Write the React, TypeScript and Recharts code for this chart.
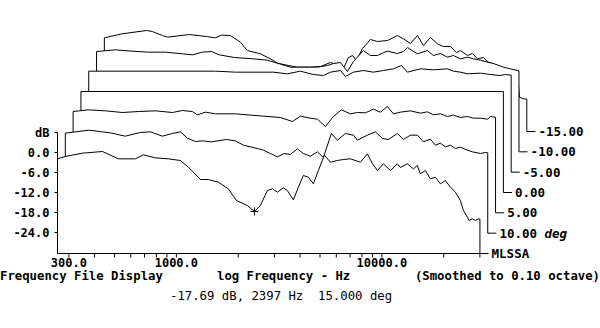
import React from "react";
import {
  ComposedChart,
  Area,
  XAxis,
  YAxis,
  ReferenceLine,
  ReferenceDot,
} from "recharts";

type Pt = [number, number]; // [Hz, dB]

// traces, front (15 deg) to back (-15 deg)
const deg15: Pt[] = [
  [264, -1.9], [288, -1.2], [349, -0.2], [437, 0.3], [522, -1.9], [632, -1.9],
  [691, -0.7], [790, -1.6], [914, -1.9], [1046, -2.4], [1144, -4.4], [1309, -8.1],
  [1431, -8.1], [1601, -8.9], [1791, -10.9], [1959, -14.4], [2216, -15.9], [2397, -17.69],
  [2564, -15.9], [2772, -11.4], [2933, -10.9], [3100, -11.9], [3317, -10.6], [3469, -11.4],
  [3710, -14.2], [3924, -10.4], [4150, -6.9], [4389, -7.4], [4642, -9.4], [4910, -5.4],
  [5251, -0.8], [5616, -2.9], [6073, -2.4], [6496, -2.1], [7027, -1.9], [7859, -2.9],
  [8501, -0.4], [8990, -3.3], [9508, -5.4], [10170, -3.4], [11000, -5.4], [11900, -3.4],
  [12300, -4.5], [13310, -3.4], [14230, -4.9], [14880, -3.9], [15390, -6.4], [16280, -5.4],
  [17220, -7.9], [18210, -7.4], [19260, -9.4], [20370, -8.4], [21540, -10.4], [22790, -11.9],
  [24100, -14.4], [24930, -17.4], [26070, -19.4], [26510, -20.4], [27570, -19.9], [28510, -20.4],
  [29480, -19.9], [30000, -20.0],
];

const deg10: Pt[] = [
  [264, -0.3], [296, 0.1], [346, 0.6], [399, 0.1], [437, -0.2], [517, -1.2], [612, -0.1],
  [685, 0.1], [783, -1.2], [876, -0.4], [958, 0.1], [1037, -1.8], [1134, -2.8], [1226, -2.6],
  [1356, -2.9], [1604, -2.2], [1774, -2.6], [1942, -3.9], [2271, -4.9], [2429, -5.4],
  [2627, -6.4], [2841, -7.4], [3073, -6.4], [3287, -6.7], [3554, -5.0], [3802, -6.4],
  [4112, -7.2], [4448, -5.9], [4758, -7.6], [5204, -0.4], [5567, -2.4], [6087, -0.4],
  [6659, -0.9], [6963, -2.4], [7790, -0.9], [8520, 0.1], [9215, -1.9], [9856, -2.2],
  [10900, -0.4], [11660, -2.2], [12610, -0.9], [13640, -0.9], [14590, -2.9], [15780, -2.1],
  [16690, -3.9], [17650, -3.3], [18660, -4.4], [19740, -3.9], [20880, -4.9], [22080, -4.5],
  [23880, -5.4], [25260, -5.9], [27630, -6.4], [29220, -6.1], [30000, -6.2],
];

const deg5: Pt[] = [
  [264, 0.1], [313, 0.6], [379, 0.3], [459, -0.2], [549, 0.1], [664, 0.3], [803, -0.2],
  [898, 0.4], [1004, 0.1], [1062, -0.9], [1162, -0.1], [1300, -0.6], [1626, -0.6],
  [2226, -1.3], [2693, -1.7], [3080, -2.9], [3370, -1.3], [3770, -1.9], [4076, -2.2],
  [4459, -4.4], [4876, -1.4], [5333, 0.6], [5899, -0.6], [6379, -0.2], [6979, -0.3],
  [7633, 0.8], [8257, -0.1], [8931, 1.6], [9550, -0.6], [10330, -0.1], [11560, 0.3],
  [12930, -0.4], [13980, 0], [14950, -0.9], [16180, -0.6], [17490, -1.4], [18710, -1.0],
  [20240, -1.7], [21880, -1.4], [23400, -1.9], [25310, -1.9], [27380, -2.2], [28310, -1.4],
  [29610, -1.6], [30000, -1.6],
];

// reference axis, normalised flat
const deg0: Pt[] = [[264, 0], [30000, 0]];

const degM5: Pt[] = [
  [264, 0], [1091, 0], [1366, -0.3], [2090, -0.3], [2445, -0.8], [2828, 0], [3272, -1.0],
  [3660, -1.3], [3959, -0.3], [4429, 0.2], [4684, -1.6], [5123, -0.3], [5731, 0.2],
  [6408, -0.3], [7169, 0.2], [8020, 0.7], [8772, 1.7], [9382, -0.3], [10850, 0.7],
  [12550, 0.4], [14690, 0.7], [15710, 0], [16990, -0.3], [18380, -0.8], [21260, -0.6],
  [23780, -1.0], [26600, -1.3], [28130, -1.0], [30000, -1.2],
];

const degM10: Pt[] = [
  [264, -0.2], [326, 0.3], [393, -0.1], [472, -0.4], [571, -0.4], [691, -0.9], [773, -1.2],
  [864, -0.4], [956, -0.2], [1046, -1.2], [1237, -2.0], [1531, -2.4], [1791, -2.8],
  [2072, -4.0], [2317, -4.9], [2506, -4.9], [3136, -4.9], [3508, -4.4], [3752, -3.8],
  [4058, -3.5], [4389, -6.2], [4694, -3.2], [5251, 0.1], [5679, -1.4], [6142, -1.4],
  [6496, -0.7], [6871, -0.1], [7685, -0.8], [8220, -0.2], [8597, 1.0], [9616, -0.9],
  [10750, 0.1], [11500, -1.4], [12440, -0.8], [13460, -1.9], [14390, -1.4], [15570, -2.4],
  [16840, -1.9], [18010, -2.4], [19480, -2.8], [21070, -3.4], [22530, -3.8], [25210, -4.9],
  [27260, -5.4], [29490, -5.9], [30000, -6.0],
];

const degM15: Pt[] = [
  [264, -2.2], [322, -1.0], [423, 0], [452, -0.3], [506, -1.5], [535, -2.0], [685, -1.2],
  [828, -1.8], [916, -2.2], [980, -1.4], [1084, -1.5], [1212, -3.5], [1311, -6.0],
  [1517, -7.0], [1697, -8.5], [1835, -9.8], [2076, -10.5], [2297, -11.0], [2657, -11.0],
  [2972, -10.8], [3324, -9.6], [3555, -10.2], [3845, -11.4], [4067, -8.1], [4253, -7.5],
  [4448, -9.0], [4758, -5.4], [5204, -2.7], [5628, -3.3], [6295, -3.0], [7043, -1.5],
  [7532, -2.5], [8145, -3.9], [8810, -1.5], [9424, -4.5], [10190, -2.1], [11020, -4.0],
  [11790, -4.8], [12750, -4.8], [13640, -6.6], [14270, -6.0], [15430, -7.5], [16320, -6.9],
  [17260, -8.5], [18460, -8.1], [19520, -9.5], [20640, -10.0], [22330, -11.0], [24150, -11.5],
  [25540, -12.0], [27010, -12.5], [27630, -20.0], [28890, -20.5], [30000, -20.6],
];

const traceLabels = ["MLSSA", "10.00", "5.00", "0.00", "-5.00", "-10.00", "-15.00"];
const traces = [deg15, deg10, deg5, deg0, degM5, degM10, degM15];

const xTicks = [
  300, 400, 500, 600, 700, 800, 900, 1000, 2000, 3000, 4000, 5000, 6000, 7000, 8000, 9000,
  10000, 20000, 30000,
];
const xLabelled = [300, 1000, 10000];
const yTicks = [6, 0, -6, -12, -18, -24];

const cursorHz = 2397;
const cursorDb = -17.69;

const X_MIN = 264;
const X_MAX = 62540;
const Y_MIN = -30.3;
const Y_MAX = 42;
const STEP_DEC = 0.038; // each trace sits a little to the right...
const STEP_DB = 6.1; // ...and up
const CONN_DEC = 0.042;

const MONO = '"DejaVu Sans Mono", "Liberation Mono", monospace';

const series = traces.map((pts, i) => {
  const k = Math.pow(10, STEP_DEC * i);
  const base = Y_MIN + STEP_DB * i;
  const first = pts[0][0] * k;
  const last = pts[pts.length - 1][0] * k;
  return {
    base,
    first,
    last,
    data: [
      { x: first, y: base },
      ...pts.map(([f, v]) => ({ x: f * k, y: v + STEP_DB * i })),
      { x: last, y: base },
    ],
  };
});

const tag = (text: string, unit?: string) => (props: any) => {
  const vb = props.viewBox || {};
  const x = (vb.x || 0) + (vb.width || 0) + 3;
  const y = vb.y || 0;
  return (
    <text
      x={x}
      y={y}
      dy="0.36em"
      fill="#000"
      fontFamily={MONO}
      fontSize={12.5}
      fontWeight="bold"
    >
      {text}
      {unit ? <tspan fontStyle="italic">{" " + unit}</tspan> : null}
    </text>
  );
};

const cross = (p: any) => (
  <path
    d={`M${p.cx - 4},${p.cy}h8M${p.cx},${p.cy - 4}v8`}
    stroke="#000"
    strokeWidth={1}
    fill="none"
  />
);

const textRow: React.CSSProperties = {
  position: "absolute",
  fontFamily: MONO,
  fontSize: 12.3,
  lineHeight: "14px",
  whiteSpace: "pre",
  color: "#000",
};

export default function App() {
  return (
    <div style={{ position: "relative", width: 600, height: 328, background: "#fff" }}>
      <style>{"body{margin:0;background:#fff}"}</style>
      <ComposedChart
        width={600}
        height={328}
        margin={{ top: 12.5, right: 54.5, bottom: 54.5, left: 7.5 }}
      >
        <XAxis
          type="number"
          dataKey="x"
          scale="log"
          domain={[X_MIN, X_MAX]}
          allowDataOverflow
          ticks={xTicks}
          interval={0}
          height={20}
          axisLine={false}
          tickSize={4}
          tickMargin={1}
          tickLine={{ stroke: "#000" }}
          tickFormatter={(v: number) => (xLabelled.includes(v) ? v.toFixed(1) : "")}
          tick={{ fill: "#000", fontFamily: MONO, fontSize: 12, fontWeight: "bold" }}
        />
        <YAxis
          type="number"
          domain={[Y_MIN, Y_MAX]}
          allowDataOverflow
          ticks={yTicks}
          interval={0}
          width={50}
          axisLine={false}
          tickSize={3}
          tickMargin={5}
          tickLine={{ stroke: "#000" }}
          tickFormatter={(v: number) => (v === 6 ? "dB" : v.toFixed(1))}
          tick={{ fill: "#000", fontFamily: MONO, fontSize: 12, fontWeight: "bold" }}
        />
        {series
          .map((s, i) => (
            <Area
              key={`trace-${i}`}
              data={s.data}
              dataKey="y"
              type="linear"
              baseValue={s.base}
              stroke="#000"
              strokeWidth={1}
              fill="#fff"
              fillOpacity={1}
              dot={false}
              activeDot={false}
              isAnimationActive={false}
            />
          ))
          .reverse()}
        <ReferenceLine
          segment={[
            { x: X_MIN, y: Y_MIN },
            { x: X_MIN, y: 6 },
          ]}
          stroke="#000"
          ifOverflow="visible"
        />
        {series.map((s, i) => (
          <ReferenceLine
            key={`conn-${i}`}
            segment={[
              { x: i === 0 ? X_MIN : s.last, y: s.base },
              { x: s.last * Math.pow(10, CONN_DEC), y: s.base },
            ]}
            stroke="#000"
            ifOverflow="visible"
            label={tag(traceLabels[i], i === 1 ? "deg" : undefined)}
          />
        ))}
        <ReferenceDot
          x={cursorHz}
          y={cursorDb}
          r={4}
          ifOverflow="visible"
          shape={cross}
        />
      </ComposedChart>
      <div style={{ ...textRow, fontWeight: "bold", left: 0, top: 269 }}>
        Frequency File Display
      </div>
      <div style={{ ...textRow, fontWeight: "bold", left: 217, top: 269 }}>
        log Frequency - Hz
      </div>
      <div style={{ ...textRow, fontWeight: "bold", right: 0, top: 269 }}>
        (Smoothed to 0.10 octave)
      </div>
      <div style={{ ...textRow, left: 170, top: 289 }}>
        {`${cursorDb.toFixed(2)} dB, ${cursorHz} Hz  15.000 deg`}
      </div>
    </div>
  );
}
